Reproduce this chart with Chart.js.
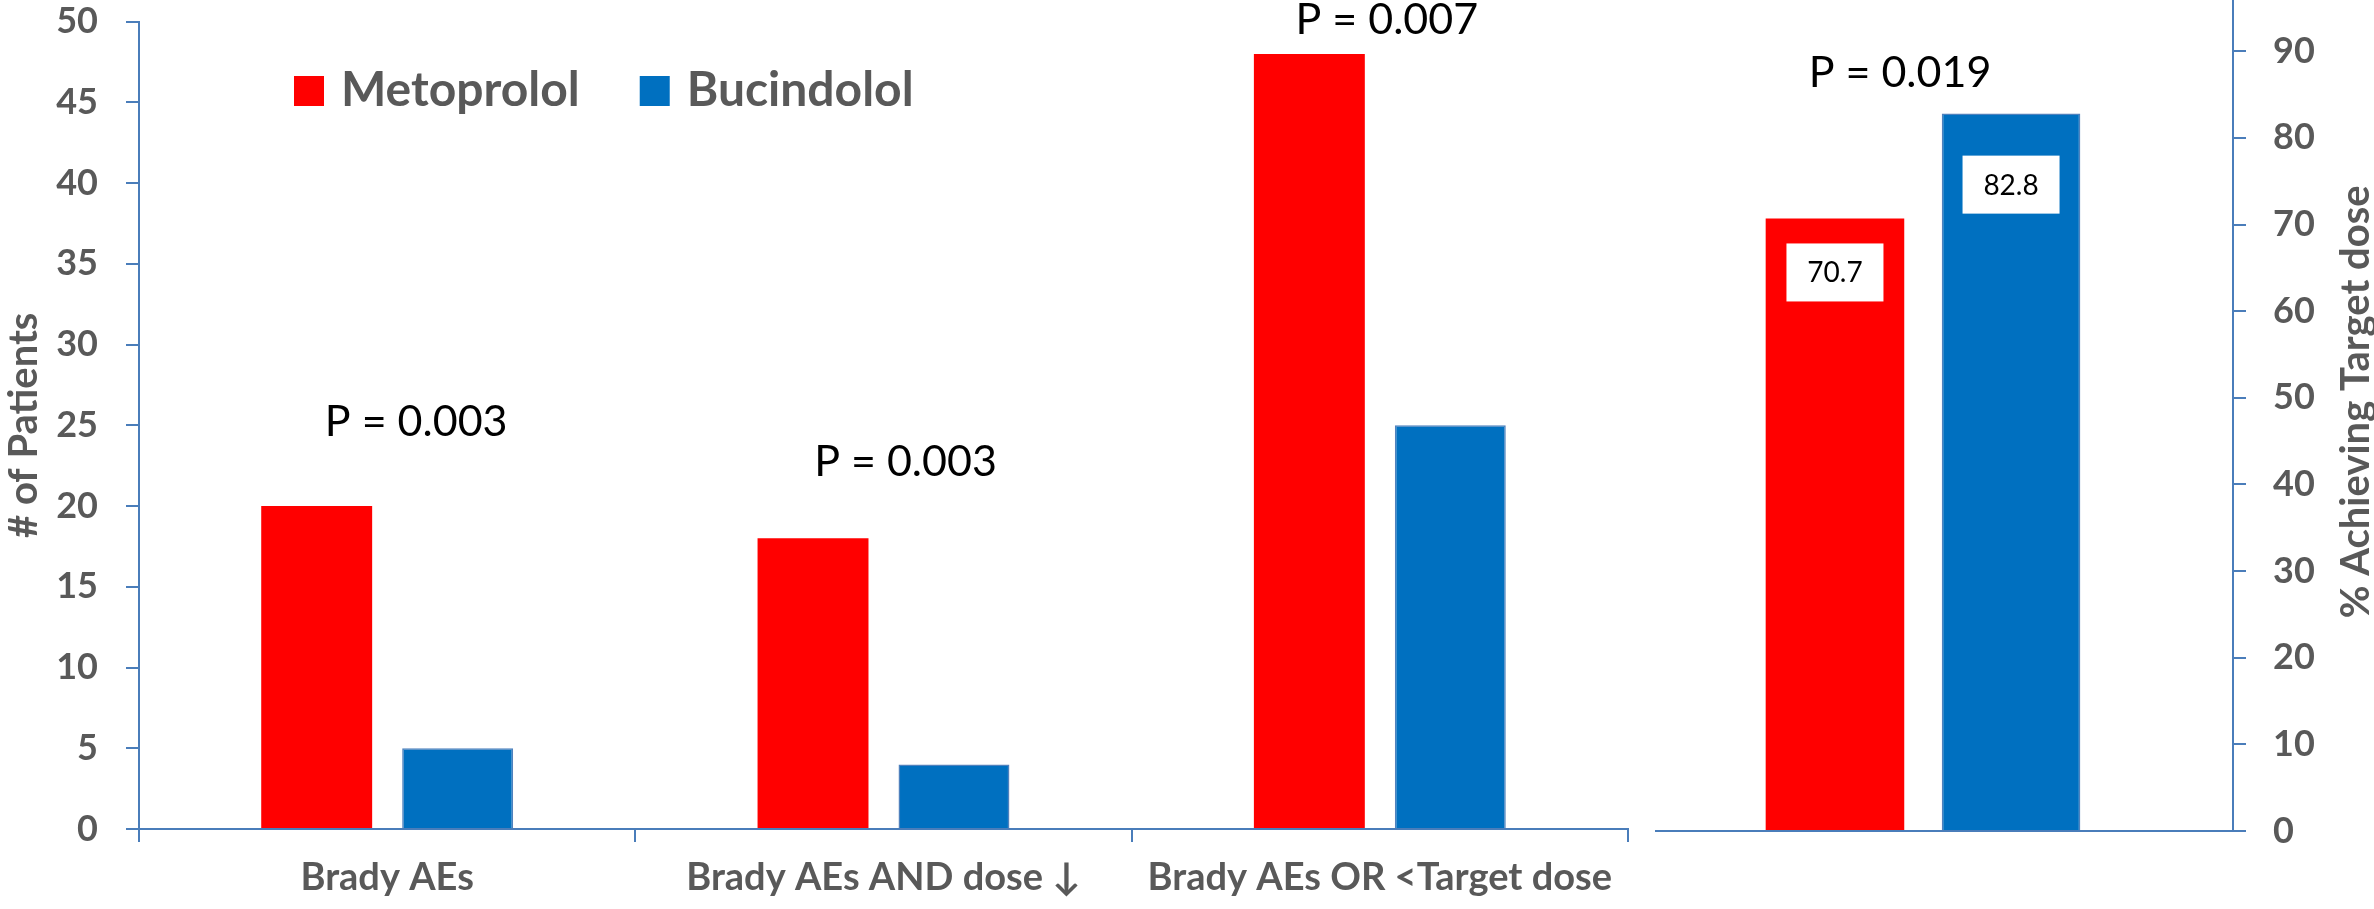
<!DOCTYPE html>
<html>
<head>
<meta charset="utf-8">
<script src="https://cdn.jsdelivr.net/npm/chart.js@4.4.1/dist/chart.umd.min.js"></script>
<style>
  html, body { margin: 0; padding: 0; background: #fff; overflow: hidden; }
  #wrap { position: relative; width: 2374px; height: 909px; overflow: hidden; background: #fff; }
  /* the percentage panel runs above the visible area so its 100 mark is off the top */
  #rightBox { position: absolute; left: 1600px; top: -84px; width: 774px; height: 993px; }
  #leftBox { position: absolute; left: 0; top: -28px; width: 1655px; height: 937px; background: #fff; }
</style>
</head>
<body>
<div id="wrap">
  <div id="rightBox"><canvas id="targetChart"></canvas></div>
  <div id="leftBox"><canvas id="patientsChart"></canvas></div>
</div>
<script>
// ---- data ----
const categories = ['Brady AEs', 'Brady AEs AND dose \u2193', 'Brady AEs OR <Target dose'];
const seriesNames = ['Metoprolol', 'Bucindolol'];
const metoprololPatients = [20, 18, 48];
const bucindololPatients = [5, 4, 25];
const patientTicks = [0, 5, 10, 15, 20, 25, 30, 35, 40, 45, 50];
const patientPValues = ['P = 0.003', 'P = 0.003', 'P = 0.007'];

const targetCategory = ['Target dose'];
const metoprololTarget = [70.7];
const bucindololTarget = [82.8];
const targetTicks = [0, 10, 20, 30, 40, 50, 60, 70, 80, 90, 100];
const targetPValue = 'P = 0.019';

// ---- styling ----
const RED = '#FF0000';
const BLUE = '#0070C0';
const AXIS = '#4A7DBA';
const GREY = '#595959';
const FONT = 'Lato';
const tickFont = { family: FONT, size: 36, weight: 'bold' };

Chart.defaults.font.family = FONT;

// P-value captions placed in data space (category index, value level)
const pCaptions = {
  id: 'pCaptions',
  afterDatasetsDraw(chart, args, opts) {
    const { ctx } = chart;
    const xs = chart.scales.x, ys = chart.scales.y;
    ctx.save();
    ctx.font = '43px ' + FONT;
    ctx.fillStyle = '#000';
    ctx.textAlign = 'center';
    ctx.textBaseline = 'middle';
    opts.items.forEach(it => {
      ctx.fillText(it.text, xs.getPixelForValue(it.index) + it.dx, ys.getPixelForValue(it.level));
    });
    ctx.restore();
  }
};

// series key drawn inside the plot from the dataset labels/colours
const seriesKey = {
  id: 'seriesKey',
  afterDraw(chart, args, opts) {
    const { ctx } = chart;
    ctx.save();
    ctx.font = 'bold 48px ' + FONT;
    ctx.textBaseline = 'middle';
    ctx.textAlign = 'left';
    let x = opts.x;
    chart.data.datasets.forEach(ds => {
      ctx.fillStyle = ds.backgroundColor;
      ctx.fillRect(x, opts.y, opts.box, opts.box);
      ctx.fillStyle = GREY;
      const tx = x + opts.box + 17;
      ctx.fillText(ds.label, tx, opts.y + opts.box / 2);
      x = tx + ctx.measureText(ds.label).width + opts.gap;
    });
    ctx.restore();
  }
};

// boxed value labels inside the bar tops
const valueBoxes = {
  id: 'valueBoxes',
  afterDatasetsDraw(chart, args, opts) {
    const { ctx } = chart;
    ctx.save();
    ctx.font = '28px ' + FONT;
    ctx.textAlign = 'center';
    ctx.textBaseline = 'middle';
    chart.data.datasets.forEach((ds, i) => {
      chart.getDatasetMeta(i).data.forEach((bar, j) => {
        const cy = bar.y + opts.offsets[i];
        ctx.fillStyle = '#fff';
        ctx.fillRect(bar.x - opts.w / 2, cy - opts.h / 2, opts.w, opts.h);
        ctx.fillStyle = '#000';
        ctx.fillText(ds.data[j].toFixed(1), bar.x, cy + 1);
      });
    });
    ctx.restore();
  }
};

// right-hand axis caption reading bottom-to-top
const sideTitle = {
  id: 'sideTitle',
  afterDraw(chart, args, opts) {
    const { ctx, chartArea } = chart;
    ctx.save();
    ctx.translate(opts.x, (chartArea.top + chartArea.bottom) / 2 + opts.dy);
    ctx.rotate(-Math.PI / 2);
    ctx.font = 'bold 40px ' + FONT;
    ctx.fillStyle = GREY;
    ctx.textAlign = 'center';
    ctx.textBaseline = 'middle';
    ctx.fillText(opts.text, 0, 0);
    ctx.restore();
  }
};

const barShape = { categoryPercentage: 0.568, barPercentage: 0.787 };

// ---- left chart: number of patients ----
new Chart(document.getElementById('patientsChart'), {
  type: 'bar',
  data: {
    labels: categories,
    datasets: [
      Object.assign({ label: seriesNames[0], data: metoprololPatients, backgroundColor: RED, borderWidth: 0 }, barShape),
      Object.assign({ label: seriesNames[1], data: bucindololPatients, backgroundColor: BLUE, borderColor: '#4F81BD', borderWidth: 1.5 }, barShape)
    ]
  },
  options: {
    responsive: true,
    maintainAspectRatio: false,
    animation: false,
    devicePixelRatio: 1,
    layout: { padding: { top: 0, right: 27, left: 0, bottom: 0 } },
    plugins: {
      legend: { display: false },
      tooltip: { enabled: false },
      pCaptions: {
        items: [
          { text: patientPValues[0], index: 0, level: 25.2, dx: 29 },
          { text: patientPValues[1], index: 1, level: 22.7, dx: 22 },
          { text: patientPValues[2], index: 2, level: 50.1, dx: 7 }
        ]
      },
      seriesKey: { x: 294, y: 104, box: 30, gap: 60 }
    },
    scales: {
      x: {
        grid: { display: true, drawOnChartArea: false, drawTicks: true, tickLength: 13, color: AXIS, lineWidth: 2, offset: true },
        border: { display: true, color: AXIS, width: 2 },
        ticks: { color: GREY, font: { family: FONT, size: 38, weight: 'bold' }, padding: 13, maxRotation: 0, autoSkip: false },
        afterFit: s => { s.height = 80; }
      },
      y: {
        min: 0,
        max: 50,
        afterBuildTicks: s => { s.ticks = patientTicks.map(v => ({ value: v })); },
        ticks: { color: GREY, font: tickFont, padding: 28 },
        grid: { drawOnChartArea: false, drawTicks: true, tickLength: 13, color: AXIS, lineWidth: 2 },
        border: { display: true, color: AXIS, width: 2 },
        title: { display: true, text: '# of Patients', color: GREY, font: { family: FONT, size: 40, weight: 'bold' }, padding: 0 },
        afterFit: s => { s.width = 139; }
      }
    }
  },
  plugins: [pCaptions, seriesKey]
});

// ---- right chart: % achieving target dose ----
new Chart(document.getElementById('targetChart'), {
  type: 'bar',
  data: {
    labels: targetCategory,
    datasets: [
      Object.assign({ label: seriesNames[0], data: metoprololTarget, backgroundColor: RED, borderWidth: 0 }, barShape),
      Object.assign({ label: seriesNames[1], data: bucindololTarget, backgroundColor: BLUE, borderColor: '#4F81BD', borderWidth: 1.5 }, barShape)
    ]
  },
  options: {
    responsive: true,
    maintainAspectRatio: false,
    animation: false,
    devicePixelRatio: 1,
    layout: { padding: { top: 0, right: 0, left: 13, bottom: 0 } },
    plugins: {
      legend: { display: false },
      tooltip: { enabled: false },
      pCaptions: { items: [{ text: targetPValue, index: 0, level: 87.5, dx: -23 }] },
      valueBoxes: { w: 97, h: 58, offsets: [54, 71] },
      sideTitle: { text: '% Achieving Target dose', x: 756, dy: 4 }
    },
    scales: {
      x: {
        grid: { display: false },
        border: { display: true, color: AXIS, width: 2 },
        ticks: { display: false },
        afterFit: s => { s.height = 78; }
      },
      y: {
        position: 'right',
        min: 0,
        max: 100,
        afterBuildTicks: s => { s.ticks = targetTicks.map(v => ({ value: v })); },
        ticks: { color: GREY, font: tickFont, padding: 27 },
        grid: { drawOnChartArea: false, drawTicks: true, tickLength: 13, color: AXIS, lineWidth: 2 },
        border: { display: true, color: AXIS, width: 2 },
        afterFit: s => { s.width = 141; }
      }
    }
  },
  plugins: [pCaptions, valueBoxes, sideTitle]
});
</script>
</body>
</html>
